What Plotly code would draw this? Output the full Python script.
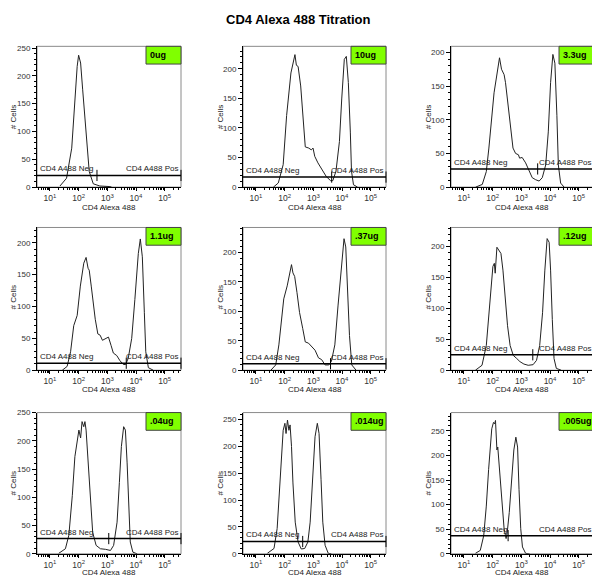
import numpy as np
import plotly.graph_objects as go

# ---------------- data ----------------
panel_labels = ["0ug", "10ug", "3.3ug", "1.1ug", ".37ug", ".12ug", ".04ug", ".014ug", ".005ug"]

x_tick_vals = [10, 100, 1000, 10000, 100000]
x_tick_text = ["10<sup>1</sup>", "10<sup>2</sup>", "10<sup>3</sup>", "10<sup>4</sup>", "10<sup>5</sup>"]

# log10(CD4 Alexa 488 intensity) and # Cells for each histogram
log_x_0ug = [1.35, 1.58, 1.76, 1.87, 1.95, 2.00, 2.07, 2.14, 2.22, 2.30, 2.37, 2.51, 2.74, 3.09, 3.15]
cells_0ug = [2, 16, 70, 158, 217, 237, 223, 176, 123, 70, 28, 6, 2, 1, 0]

log_x_10ug = [1.61, 1.78, 1.95, 2.07, 2.22, 2.33, 2.36, 2.41, 2.47, 2.56, 2.64, 2.72, 2.84, 2.93, 2.99, 3.05,
              3.16, 3.28, 3.45, 3.60, 3.68, 3.79, 3.91, 3.99, 4.08, 4.15, 4.22, 4.29, 4.33, 4.40, 4.54]
cells_10ug = [0, 7, 38, 121, 193, 215, 224, 206, 204, 171, 121, 68, 66, 63, 66, 52,
              41, 32, 18, 11, 11, 27, 77, 149, 216, 221, 177, 93, 27, 4, 0]

log_x_3_3ug = [1.41, 1.64, 1.78, 1.87, 2.05, 2.16, 2.24, 2.31, 2.40, 2.45, 2.55, 2.63, 2.71, 2.80, 2.90, 2.94,
               3.03, 3.15, 3.27, 3.38, 3.50, 3.62, 3.73, 3.85, 3.94, 4.02, 4.10, 4.17, 4.24, 4.29, 4.37, 4.49]
cells_3_3ug = [0, 4, 23, 58, 140, 175, 192, 175, 167, 155, 116, 82, 58, 50, 48, 43,
               44, 36, 23, 14, 11, 9, 14, 33, 82, 155, 197, 184, 106, 33, 6, 0]

log_x_1_1ug = [1.43, 1.60, 1.72, 1.83, 1.95, 2.06, 2.18, 2.26, 2.33, 2.37, 2.44, 2.52, 2.58, 2.67, 2.75, 2.83,
               2.93, 3.04, 3.13, 3.21, 3.33, 3.44, 3.56, 3.64, 3.73, 3.85, 3.96, 4.08, 4.15, 4.22, 4.29, 4.34,
               4.43, 4.60]
cells_1_1ug = [0, 6, 29, 70, 86, 132, 168, 177, 160, 157, 132, 96, 80, 57, 55, 47,
               50, 52, 39, 27, 23, 15, 9, 9, 19, 50, 111, 183, 206, 178, 91, 29,
               4, 0]

log_x_37ug = [1.52, 1.69, 1.80, 1.89, 1.97, 2.09, 2.17, 2.24, 2.29, 2.35, 2.43, 2.52, 2.63, 2.72, 2.83, 2.95,
              3.06, 3.18, 3.29, 3.41, 3.54, 3.63, 3.75, 3.86, 3.98, 4.07, 4.13, 4.18, 4.26, 4.34, 4.49]
cells_37ug = [0, 9, 43, 87, 121, 143, 165, 179, 165, 159, 132, 98, 71, 48, 46, 40,
              34, 21, 18, 9, 9, 15, 43, 109, 182, 223, 209, 143, 59, 9, 0]

log_x_12ug = [1.40, 1.63, 1.78, 1.86, 1.94, 2.01, 2.06, 2.09, 2.15, 2.21, 2.29, 2.36, 2.44, 2.52, 2.61, 2.72,
              2.84, 2.95, 3.09, 3.24, 3.41, 3.53, 3.64, 3.74, 3.82, 3.90, 3.97, 4.02, 4.08, 4.14, 4.22, 4.39]
cells_12ug = [0, 8, 40, 82, 136, 168, 173, 157, 199, 194, 189, 162, 120, 72, 40, 24,
              19, 14, 10, 8, 9, 16, 40, 93, 162, 213, 207, 162, 82, 19, 3, 0]

log_x_04ug = [1.31, 1.54, 1.66, 1.78, 1.87, 1.95, 2.01, 2.07, 2.12, 2.18, 2.22, 2.26, 2.33, 2.41, 2.49, 2.61,
              2.76, 2.94, 3.11, 3.22, 3.34, 3.42, 3.49, 3.57, 3.63, 3.69, 3.75, 3.80, 3.89, 4.04]
cells_04ug = [1, 9, 33, 103, 172, 202, 219, 205, 234, 225, 234, 219, 161, 91, 38, 15,
              9, 8, 6, 15, 56, 126, 190, 225, 219, 161, 79, 21, 3, 0]

log_x_014ug = [1.40, 1.63, 1.74, 1.82, 1.89, 1.95, 2.01, 2.05, 2.10, 2.15, 2.19, 2.24, 2.29, 2.37, 2.47, 2.58,
               2.70, 2.81, 2.89, 2.97, 3.06, 3.14, 3.20, 3.27, 3.33, 3.41, 3.52, 3.63]
cells_014ug = [1, 10, 47, 114, 187, 230, 243, 224, 249, 230, 240, 200, 132, 59, 22, 9,
               10, 22, 59, 138, 218, 243, 224, 138, 59, 16, 1, 0]

log_x_005ug = [1.40, 1.57, 1.69, 1.78, 1.86, 1.92, 1.97, 2.03, 2.07, 2.10, 2.15, 2.18, 2.24, 2.32, 2.40, 2.47,
               2.51, 2.58, 2.66, 2.74, 2.81, 2.87, 2.92, 2.98, 3.04, 3.15, 3.29]
cells_005ug = [1, 7, 37, 97, 171, 217, 254, 267, 264, 271, 211, 217, 171, 104, 51, 31,
               44, 84, 151, 211, 237, 217, 131, 51, 14, 1, 0]

hist_log_x = [log_x_0ug, log_x_10ug, log_x_3_3ug, log_x_1_1ug, log_x_37ug,
              log_x_12ug, log_x_04ug, log_x_014ug, log_x_005ug]
hist_cells = [cells_0ug, cells_10ug, cells_3_3ug, cells_1_1ug, cells_37ug,
              cells_12ug, cells_04ug, cells_014ug, cells_005ug]

# gate (horizontal bar) height in # Cells and Neg/Pos divider position (log10 intensity)
gate_y = [21, 17, 27, 11, 11, 25, 27, 23, 37]
gate_div_log = [2.64, 3.64, 3.57, 3.66, 3.60, 3.40, 3.05, 2.63, 2.54]

# y axis maxima of each panel
y_max = [253, 238, 209, 224, 242, 231, 250, 263, 287]

# ---------------- layout geometry ----------------
W, H = 592, 581
col_px = [(37, 181), (243, 386), (451, 592)]
col_right_virtual = [181, 386, 594]
row_px = [(43, 186), (227, 372), (415, 558.5)]
DEC_PX = 28.7
X_LOG_MIN = 0.55

FONT = "Liberation Sans, Arial, sans-serif"
GREEN = "#80FF00"

fig = go.Figure()
layout = dict(
    width=W, height=H, autosize=False,
    margin=dict(l=0, r=0, t=0, b=0),
    paper_bgcolor="white", plot_bgcolor="white",
    showlegend=False,
    font=dict(family=FONT, size=8, color="#333333"),
)
shapes = []
annotations = []

annotations.append(dict(text="<b>CD4 Alexa 488 Titration</b>", xref="paper", yref="paper",
                        x=298 / W, y=1 - 16 / H, xanchor="center", yanchor="middle",
                        showarrow=False, font=dict(size=13, color="black", family=FONT)))

x_title_py = [206.5, 391.5, 577]
y_title_px = [13, 220, 428]
y_title_py = [115, 298, 487]

for i in range(9):
    r, c = divmod(i, 3)
    n = i + 1
    xs = "" if n == 1 else str(n)
    xa, ya = "x" + xs, "y" + xs
    x0p, x1p = col_px[c]
    y0p, y1p = row_px[r]
    wpx = x1p - x0p
    hpx = y1p - y0p
    x_hi = X_LOG_MIN + wpx / DEC_PX
    vr = (col_right_virtual[c] - x0p) / wpx  # virtual right edge in domain units

    layout["xaxis" + xs] = dict(
        domain=[x0p / W, x1p / W], anchor=ya, type="log",
        range=[X_LOG_MIN, x_hi], tickmode="array", tickvals=x_tick_vals, ticktext=x_tick_text,
        showline=True, linecolor="black", linewidth=1, mirror=False,
        ticks="outside", ticklen=3, tickcolor="black", tickwidth=1,
        minor=dict(ticks="outside", ticklen=2, tickcolor="black", dtick="D1", showgrid=False),
        showgrid=False, zeroline=False,
        tickfont=dict(size=8.5, color="#333333", family=FONT),
    )
    layout["yaxis" + xs] = dict(
        domain=[1 - y1p / H, 1 - y0p / H], anchor=xa,
        range=[0, y_max[i]], dtick=50,
        showline=True, linecolor="black", linewidth=1,
        ticks="outside", ticklen=4, tickcolor="black", tickwidth=1,
        minor=dict(ticks="outside", ticklen=2, tickcolor="black", dtick=10, showgrid=False),
        showgrid=False, zeroline=False,
        tickfont=dict(size=8, color="#333333", family=FONT),
    )

    # frame (gray top/right border)
    shapes.append(dict(type="rect", xref=xa + " domain", yref=ya + " domain",
                       x0=0, x1=vr, y0=0, y1=1, line=dict(color="#8a8a8a", width=1),
                       layer="below"))

    # histogram
    fig.add_trace(go.Scatter(x=10 ** np.array(hist_log_x[i]), y=hist_cells[i], mode="lines",
                             line=dict(color="#222222", width=1), xaxis=xa, yaxis=ya,
                             hoverinfo="skip"))

    # gate bar
    x_left = 10 ** X_LOG_MIN
    x_right = 10 ** (X_LOG_MIN + (col_right_virtual[c] - x0p) / DEC_PX)
    fig.add_trace(go.Scatter(x=[x_left, x_right], y=[gate_y[i], gate_y[i]], mode="lines",
                             line=dict(color="black", width=1.5), xaxis=xa, yaxis=ya,
                             hoverinfo="skip", cliponaxis=False))
    fig.add_trace(go.Scatter(x=[x_left, 10 ** gate_div_log[i], x_right], y=[gate_y[i]] * 3,
                             mode="markers",
                             marker=dict(symbol="line-ns", size=8, line=dict(color="black", width=1)),
                             xaxis=xa, yaxis=ya, hoverinfo="skip", cliponaxis=False))

    annotations.append(dict(text="CD4 A488 Neg", xref=xa + " domain", yref=ya,
                            x=0.01, y=gate_y[i], xanchor="left", yanchor="bottom",
                            showarrow=False, font=dict(size=8, color="#222222", family=FONT)))
    annotations.append(dict(text="CD4 A488 Pos", xref=xa + " domain", yref=ya,
                            x=vr - 0.005, y=gate_y[i], xanchor="right", yanchor="bottom",
                            showarrow=False, font=dict(size=8, color="#222222", family=FONT)))

    # green label box
    bx0 = vr - 35 / wpx
    shapes.append(dict(type="rect", xref=xa + " domain", yref=ya + " domain",
                       x0=bx0, x1=vr, y0=1 - 18 / hpx, y1=1,
                       fillcolor=GREEN, line=dict(color="#444444", width=1), layer="above"))
    annotations.append(dict(text="<b>" + panel_labels[i] + "</b>", xref=xa + " domain",
                            yref=ya + " domain", x=bx0 + 1.5 / wpx, y=1 - 9 / hpx,
                            xanchor="left", yanchor="middle", showarrow=False,
                            font=dict(size=9, color="black", family=FONT)))

    # axis titles
    annotations.append(dict(text="CD4 Alexa 488", xref="paper", yref="paper",
                            x=(x0p + wpx / 2) / W, y=1 - x_title_py[r] / H,
                            xanchor="center", yanchor="middle", showarrow=False,
                            font=dict(size=8, color="#222222", family=FONT)))
    annotations.append(dict(text="# Cells", xref="paper", yref="paper", textangle=-90,
                            x=y_title_px[c] / W, y=1 - y_title_py[r] / H,
                            xanchor="center", yanchor="middle", showarrow=False,
                            font=dict(size=8, color="#222222", family=FONT)))

layout["shapes"] = shapes
layout["annotations"] = annotations
fig.update_layout(**layout)
fig.write_html("out.html", config={"displayModeBar": False},
               post_script="document.body.style.margin='0px';document.body.style.overflow='hidden';")
